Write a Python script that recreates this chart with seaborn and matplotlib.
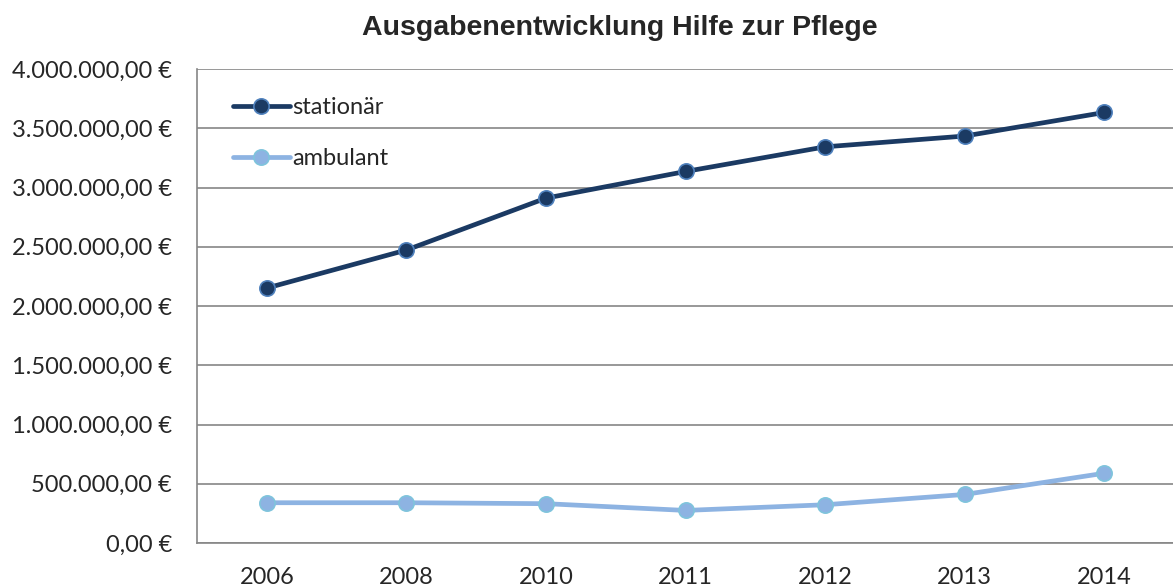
import numpy as np
import matplotlib
matplotlib.use("Agg")
import matplotlib.pyplot as plt
import matplotlib.ticker as mticker
import seaborn as sns
import pandas as pd

years = ['2006', '2008', '2010', '2011', '2012', '2013', '2014']
stationaer = [2152000, 2473000, 2911000, 3136000, 3344000, 3435000, 3634000]
ambulant = [340000, 340000, 332000, 275000, 323000, 410000, 589000]

series_names = ['stationär', 'ambulant']
line_colors = ['#1B3A63', '#8DB3E2']
edge_colors = ['#4F81BD', '#7FC4DC']

df = pd.DataFrame({
    'jahr': years * 2,
    'pos': list(range(len(years))) * 2,
    'wert': stationaer + ambulant,
    'reihe': [series_names[0]] * len(years) + [series_names[1]] * len(years),
})


def euro_fmt(v, pos):
    s = f'{v:,.2f}'
    s = s.replace(',', 'X').replace('.', ',').replace('X', '.')
    return s + ' €'


sns.set_style('white')
plt.rcParams['font.family'] = ['Lato', 'DejaVu Sans']

fig = plt.figure(figsize=(11.73, 5.88), dpi=100)
ax = fig.add_axes([0.168, 0.0765, 0.833, 0.806])

sns.lineplot(data=df, x='pos', y='wert', hue='reihe', palette=line_colors,
             marker='o', markersize=11, linewidth=3.4, ax=ax, legend=False,
             sort=False)

for ln, ec in zip(ax.lines, edge_colors):
    ln.set_markeredgecolor(ec)
    ln.set_markeredgewidth(1.2)
    ln.set_solid_capstyle('round')

ax.set_xlim(-0.5, 6.5)
ax.set_ylim(0, 4000000)
ax.yaxis.set_major_locator(mticker.MultipleLocator(500000))
ax.yaxis.set_major_formatter(mticker.FuncFormatter(euro_fmt))
ax.set_xticks(range(len(years)))
ax.set_xticklabels(years)
ax.set_xticks(np.arange(-0.5, 7.0, 1.0), minor=True)
ax.tick_params(axis='x', which='major', length=0, pad=17, labelsize=17)
ax.tick_params(axis='x', which='minor', length=6, color='#868686', width=1.2)
ax.tick_params(axis='y', length=7, color='#868686', width=1.2, labelsize=17, pad=11)
ax.yaxis.grid(True, color='#868686', linewidth=1.2)
ax.set_axisbelow(True)
for side in ['top', 'right']:
    ax.spines[side].set_visible(False)
for side in ['left', 'bottom']:
    ax.spines[side].set_color('#868686')
    ax.spines[side].set_linewidth(1.2)
ax.set_xlabel('')
ax.set_ylabel('')

handles = [plt.Line2D([], [], color=c, marker='o', markersize=11, linewidth=3.4,
                      markeredgecolor=e, markeredgewidth=1.2)
           for c, e in zip(line_colors, edge_colors)]
ax.legend(handles, series_names, loc='upper left', bbox_to_anchor=(0.015, 0.985),
          frameon=False, fontsize=17, handlelength=2.4, handletextpad=0.1,
          labelspacing=1.25)

fig.text(0.528, 0.953, 'Ausgabenentwicklung Hilfe zur Pflege', ha='center', va='center',
         fontsize=20.5, fontweight='bold', family='Liberation Sans')

fig.savefig('out.png', dpi=100)
